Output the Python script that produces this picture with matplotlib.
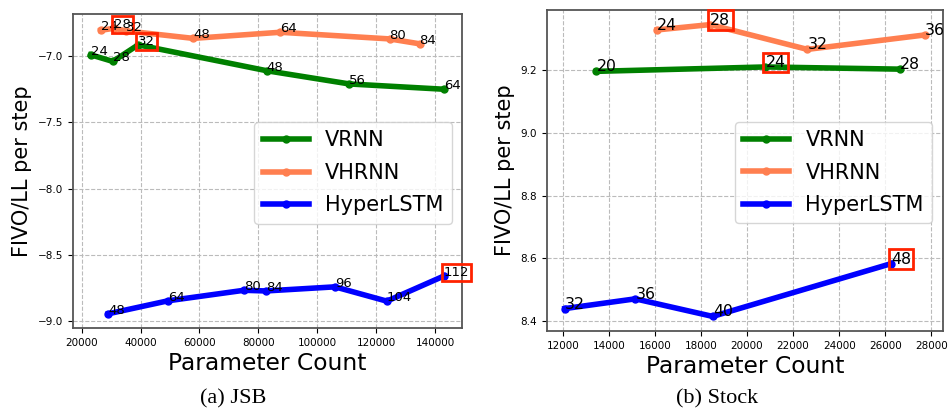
import numpy as np
import matplotlib.pyplot as plt

# JSB
jsb_vrnn_x = [23100, 30600, 39200, 82800, 110900, 143100]
jsb_vrnn_y = [-6.99, -7.04, -6.915, -7.11, -7.21, -7.25]
jsb_vrnn_lab = ['24', '28', '32', '48', '56', '64']

jsb_vhrnn_x = [26500, 31000, 35200, 57900, 87400, 124500, 134700]
jsb_vhrnn_y = [-6.805, -6.79, -6.81, -6.866, -6.82, -6.87, -6.907]
jsb_vhrnn_lab = ['24', '28', '32', '48', '64', '80', '84']

jsb_hyper_x = [29100, 49400, 75100, 82500, 106000, 123600, 142900]
jsb_hyper_y = [-8.944, -8.846, -8.767, -8.772, -8.741, -8.849, -8.66]
jsb_hyper_lab = ['48', '64', '80', '84', '96', '104', '112']

# Stock
stk_vrnn_x = [13460, 20800, 26650]
stk_vrnn_y = [9.196, 9.21, 9.203]
stk_vrnn_lab = ['20', '24', '28']

stk_vhrnn_x = [16090, 18400, 22620, 27720]
stk_vhrnn_y = [9.328, 9.345, 9.266, 9.312]
stk_vhrnn_lab = ['24', '28', '32', '36']

stk_hyper_x = [12090, 15150, 18510, 26250]
stk_hyper_y = [8.44, 8.471, 8.415, 8.583]
stk_hyper_lab = ['32', '36', '40', '48']

# which labels get a red box (series, label)
jsb_boxed = [('VHRNN', '28'), ('VRNN', '32'), ('HyperLSTM', '112')]
stk_boxed = [('VHRNN', '28'), ('VRNN', '24'), ('HyperLSTM', '48')]

colors = {'VRNN': 'green', 'VHRNN': 'coral', 'HyperLSTM': 'blue'}

fig = plt.figure(figsize=(9.51, 4.15), dpi=100)


def panel(ax, series, boxed, labsize, legend_anchor):
    for name, xs, ys, labs in series:
        ax.plot(xs, ys, color=colors[name], lw=4, marker='o', ms=5, label=name)
        for x, y, t in zip(xs, ys, labs):
            if (name, t) in boxed:
                ax.text(x, y, t, fontsize=labsize, zorder=5,
                        bbox=dict(boxstyle='square,pad=0.15', fc='none', ec='#ff2200', lw=2))
            else:
                ax.text(x, y, t, fontsize=labsize, zorder=5)
    ax.grid(True, ls='--', color='#bbbbbb', lw=0.8)
    ax.set_axisbelow(True)
    ax.tick_params(labelsize=7.5)
    for s in ax.spines.values():
        s.set_color('#555555')
        s.set_linewidth(1.3)
    ax.set_xlabel('Parameter Count', fontsize=16.8, labelpad=3)
    ax.set_ylabel('FIVO/LL per step', fontsize=15)
    ax.legend(loc='upper right', bbox_to_anchor=legend_anchor, borderaxespad=0,
              fontsize=15, handlelength=2.2, labelspacing=0.6)


ax1 = fig.add_axes([0.0768, 0.2096, 0.409, 0.7566])
panel(ax1, [('VRNN', jsb_vrnn_x, jsb_vrnn_y, jsb_vrnn_lab),
            ('VHRNN', jsb_vhrnn_x, jsb_vhrnn_y, jsb_vhrnn_lab),
            ('HyperLSTM', jsb_hyper_x, jsb_hyper_y, jsb_hyper_lab)],
      jsb_boxed, 9.5, (0.974, 0.656))
ax1.set_yticks([-9.0, -8.5, -8.0, -7.5, -7.0])
ax1.set_xticks(np.arange(20000, 140001, 20000))

ax2 = fig.add_axes([0.575, 0.2024, 0.4164, 0.7735])
panel(ax2, [('VRNN', stk_vrnn_x, stk_vrnn_y, stk_vrnn_lab),
            ('VHRNN', stk_vhrnn_x, stk_vhrnn_y, stk_vhrnn_lab),
            ('HyperLSTM', stk_hyper_x, stk_hyper_y, stk_hyper_lab)],
      stk_boxed, 11.3, (0.973, 0.652))
ax2.set_yticks([8.4, 8.6, 8.8, 9.0, 9.2])
ax2.set_xticks(np.arange(12000, 28001, 2000))

fig.text(0.245, 0.028, '(a) JSB', fontsize=16, family='Liberation Serif', ha='center')
fig.text(0.754, 0.028, '(b) Stock', fontsize=16, family='Liberation Serif', ha='center')

fig.savefig('out.png', dpi=100)
